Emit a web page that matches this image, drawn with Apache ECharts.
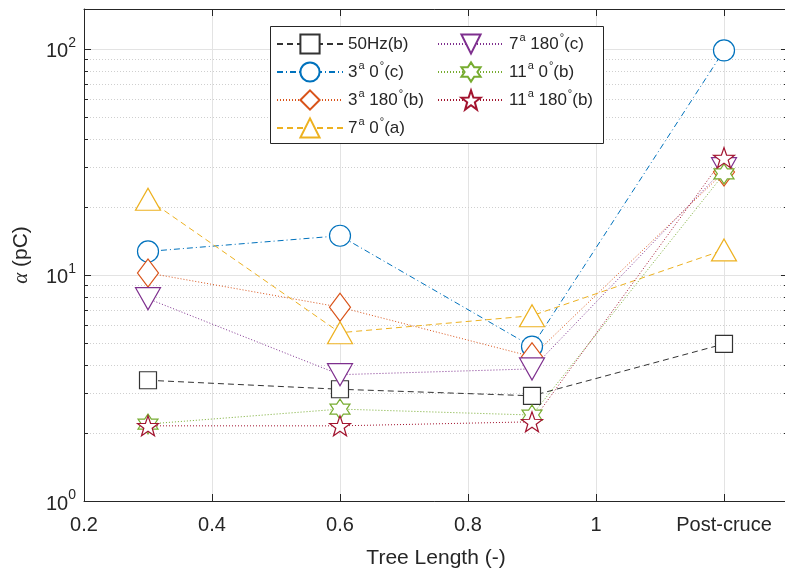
<!DOCTYPE html>
<html>
<head>
<meta charset="utf-8">
<script src="https://cdn.jsdelivr.net/npm/echarts@6/dist/echarts.min.js"></script>
<style>
html,body{margin:0;padding:0;background:#fff;}
#chart{width:785px;height:571px;}
</style>
</head>
<body>
<div id="chart"></div>
<script>
// ---------- data ----------
const xValues = [0.3, 0.6, 0.9, 1.2];
const xTickLabels = ['0.2', '0.4', '0.6', '0.8', '1', 'Post-cruce'];
const seriesNames = ['50Hz(b)', '3a 0°(c)', '3a 180°(b)', '7a 0°(a)', '7a 180°(c)', '11a 0°(b)', '11a 180°(b)'];
const legendRich = ['50Hz(b)', '3{s|a} 0{s|°}(c)', '3{s|a} 180{s|°}(b)', '7{s|a} 0{s|°}(a)', '7{s|a} 180{s|°}(c)', '11{s|a} 0{s|°}(b)', '11{s|a} 180{s|°}(b)'];
const v50Hz     = [3.42, 3.12, 2.92, 4.95];
const v3a0      = [12.7, 14.9, 4.82, 98.4];
const v3a180    = [10.2, 7.2, 4.35, 28.5];
const v7a0      = [21.6, 5.55, 6.6, 12.9];
const v7a180    = [7.85, 3.62, 3.84, 29.5];
const v11a0     = [2.19, 2.55, 2.40, 28.0];
const v11a180   = [2.15, 2.15, 2.24, 33.0];
const minorYValues = [2,3,4,5,6,7,8,9,20,30,40,50,60,70,80,90];

// ---------- styles ----------
const FONT = 'Liberation Sans, Arial, Helvetica, sans-serif';
const TXT = '#262626';
function starPath(n, rIn) {
  const p = [];
  for (let k = 0; k < 2 * n; k++) {
    const r = (k % 2) ? rIn : 1;
    const a = -Math.PI / 2 + k * Math.PI / n;
    p.push((r * Math.cos(a)).toFixed(4) + ' ' + (r * Math.sin(a)).toFixed(4));
  }
  return 'path://M' + p.join(' L') + ' Z';
}
const hexagram = starPath(6, 0.577);
const pentagram = starPath(5, 0.40);

const styles = [
  {color: '#333333', dash: [6, 4], symbol: 'rect', size: 17, rot: 0},
  {color: '#0072BD', dash: [6, 3, 1, 3], symbol: 'circle', size: 21, rot: 0},
  {color: '#D95319', dash: [1, 2], symbol: 'diamond', size: [21, 28], rot: 0},
  {color: '#EDB120', dash: [6, 4], symbol: 'triangle', size: [25, 22], rot: 0},
  {color: '#7E2F8E', dash: [1, 2], symbol: 'triangle', size: [25, 22], rot: 180},
  {color: '#77AC30', dash: [1, 2], symbol: hexagram, size: [20, 20], rot: 0},
  {color: '#A2142F', dash: [1, 2], symbol: pentagram, size: [21, 20], rot: 0}
];
const seriesValues = [v50Hz, v3a0, v3a180, v7a0, v7a180, v11a0, v11a180];

const X_MIN = 0.2, X_MAX = 1.3, Y_MIN = 1, Y_MAX = 150;

const chart = echarts.init(document.getElementById('chart'), null, {renderer: 'canvas'});

const dataSeries = seriesNames.map((name, i) => ({
  name: name,
  type: 'line',
  data: xValues.map((x, j) => [x, seriesValues[i][j]]),
  symbol: styles[i].symbol,
  symbolSize: styles[i].size,
  symbolRotate: styles[i].rot,
  showAllSymbol: true,
  lineStyle: {color: styles[i].color, width: 1, type: styles[i].dash},
  itemStyle: {color: '#ffffff', borderColor: styles[i].color, borderWidth: 1.2},
  emphasis: {disabled: true},
  animation: false,
  z: 3
}));

const minorSeries = {
  type: 'custom',
  silent: true,
  animation: false,
  z: 1,
  data: minorYValues.map(v => [X_MIN, v]),
  renderItem: function (params, api) {
    const cs = params.coordSys;
    const y = Math.round(api.coord([X_MIN, api.value(1)])[1]) + 0.5;
    return {
      type: 'group',
      children: [
        {type: 'line', shape: {x1: cs.x, y1: y, x2: cs.x + cs.width, y2: y},
         style: {stroke: '#cfcfcf', lineWidth: 1, lineDash: [1, 2]}},
        {type: 'line', shape: {x1: cs.x, y1: y, x2: cs.x + 4, y2: y},
         style: {stroke: TXT, lineWidth: 1}},
        {type: 'line', shape: {x1: cs.x + cs.width - 4, y1: y, x2: cs.x + cs.width, y2: y},
         style: {stroke: TXT, lineWidth: 1}}
      ]
    };
  }
};

function xLabel(v) {
  if (v > 1.25) return '';
  const idx = Math.round((v - X_MIN) / 0.2);
  return xTickLabels[idx] !== undefined ? xTickLabels[idx] : '';
}
function yLabel(v) {
  const e = Math.round(Math.log10(v));
  if (Math.abs(Math.pow(10, e) - v) > 1e-6) return '';
  return '{b|10}{s|' + e + '}';
}

const legendBase = {
  orient: 'vertical',
  padding: 0,
  itemGap: 4,
  itemWidth: 66,
  itemHeight: 24,
  selectedMode: false,
  z: 10,
  formatter: function (name) { return legendRich[seriesNames.indexOf(name)]; },
  textStyle: {
    fontFamily: FONT, fontSize: 17, color: TXT, lineHeight: 24,
    rich: {s: {fontFamily: FONT, fontSize: 11, color: TXT, lineHeight: 24, verticalAlign: 'top', padding: [0, 0, 0, 1]}}
  }
};

const option = {
  backgroundColor: '#ffffff',
  animation: false,
  textStyle: {fontFamily: FONT},
  grid: {left: 84, top: 9, width: 704, height: 492, containLabel: false, outerBoundsMode: 'none'},
  graphic: [{
    type: 'rect', z: 5,
    shape: {x: 270.5, y: 26.5, width: 333, height: 117},
    style: {fill: '#ffffff', stroke: TXT, lineWidth: 1}
  }],
  legend: [
    Object.assign({}, legendBase, {left: 276, top: 32, data: seriesNames.slice(0, 4)}),
    Object.assign({}, legendBase, {left: 437, top: 32, data: seriesNames.slice(4)})
  ],
  xAxis: [{
    type: 'value', position: 'bottom', min: X_MIN, max: X_MAX, interval: 0.2,
    name: 'Tree Length (-)', nameLocation: 'middle', nameGap: 47,
    nameTextStyle: {fontFamily: FONT, fontSize: 21, color: TXT},
    axisLine: {show: true, onZero: false, lineStyle: {color: TXT, width: 1}},
    axisTick: {show: true, inside: true, length: 7, lineStyle: {color: TXT}},
    axisLabel: {formatter: xLabel, fontFamily: FONT, fontSize: 20, color: TXT, margin: 14, showMaxLabel: true},
    splitLine: {show: true, lineStyle: {color: '#e3e3e3', width: 1}}
  }, {
    type: 'value', position: 'top', min: X_MIN, max: X_MAX, interval: 0.2,
    axisLine: {show: true, onZero: false, lineStyle: {color: TXT, width: 1}},
    axisTick: {show: true, inside: true, length: 7, lineStyle: {color: TXT}},
    axisLabel: {show: false},
    splitLine: {show: false}
  }],
  yAxis: [{
    type: 'log', logBase: 10, min: Y_MIN, max: Y_MAX, position: 'left',
    name: '{g|α} (pC)', nameLocation: 'middle', nameGap: 52, nameRotate: 90,
    nameTextStyle: {fontFamily: FONT, fontSize: 21, color: TXT,
      rich: {g: {fontFamily: 'Liberation Serif, DejaVu Serif, serif', fontStyle: 'italic', fontSize: 21, color: TXT}}},
    axisLine: {show: true, onZero: false, lineStyle: {color: TXT, width: 1}},
    axisTick: {show: true, inside: true, length: 7, lineStyle: {color: TXT}},
    axisLabel: {formatter: yLabel, margin: 8, color: TXT,
      rich: {
        b: {fontFamily: FONT, fontSize: 20, color: TXT, lineHeight: 26, verticalAlign: 'bottom'},
        s: {fontFamily: FONT, fontSize: 14, color: TXT, lineHeight: 26, verticalAlign: 'top'}
      }},
    splitLine: {show: true, lineStyle: {color: '#e3e3e3', width: 1}}
  }, {
    type: 'log', logBase: 10, min: Y_MIN, max: Y_MAX, position: 'right',
    axisLine: {show: true, onZero: false, lineStyle: {color: TXT, width: 1}},
    axisTick: {show: true, inside: true, length: 7, lineStyle: {color: TXT}},
    axisLabel: {show: false},
    splitLine: {show: false}
  }],
  series: [minorSeries].concat(dataSeries)
};
chart.setOption(option);
</script>
</body>
</html>
